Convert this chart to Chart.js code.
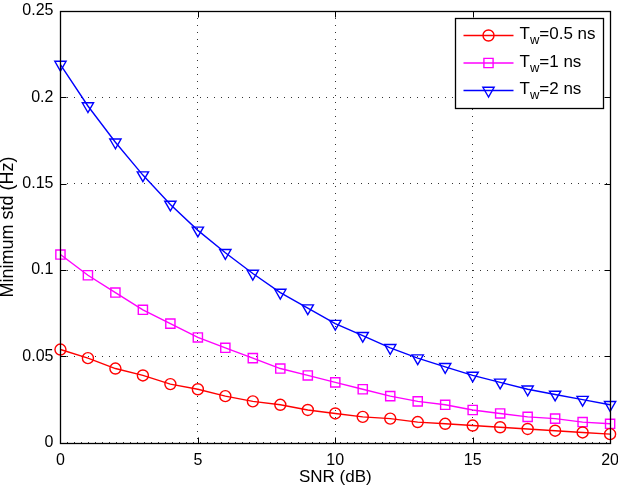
<!DOCTYPE html>
<html>
<head>
<meta charset="utf-8">
<script src="https://cdn.jsdelivr.net/npm/chart.js@4/dist/chart.umd.min.js"></script>
<style>
  html, body { margin: 0; padding: 0; background: #fff; }
  #wrap { width: 618px; height: 486px; }
</style>
</head>
<body>
<div id="wrap"><canvas id="chart" width="618" height="486"></canvas></div>
<script>
const snr = [0,1,2,3,4,5,6,7,8,9,10,11,12,13,14,15,16,17,18,19,20];
const tw05 = [0.054,0.049,0.043,0.039,0.034,0.031,0.027,0.024,0.022,0.019,0.017,0.015,0.014,0.012,0.011,0.010,0.009,0.008,0.007,0.006,0.005];
const tw1 = [0.109,0.097,0.087,0.077,0.069,0.061,0.055,0.049,0.043,0.039,0.035,0.031,0.027,0.024,0.022,0.019,0.017,0.015,0.014,0.012,0.011];
const tw2 = [0.219,0.195,0.174,0.155,0.138,0.123,0.110,0.098,0.087,0.078,0.069,0.062,0.055,0.049,0.044,0.039,0.035,0.031,0.028,0.025,0.022];
const seriesNames = ['=0.5 ns', '=1 ns', '=2 ns'];
const xTicks = [0, 5, 10, 15, 20];
const yTicks = [0, 0.05, 0.1, 0.15, 0.2, 0.25];

const font = 'Liberation Sans, Arial, sans-serif';

function pts(ys) {
    return ys.map((y, i) => ({ x: snr[i], y: y }));
}

// MATLAB style box, inward ticks and legend with subscript
const matlabLook = {
    id: 'matlabLook',
    afterDraw(chart) {
        const ctx = chart.ctx;
        const ca = chart.chartArea;
        const xs = chart.scales.x, ys = chart.scales.y;
        const L = Math.round(ca.left) + 0.5, R = Math.round(ca.right) + 0.5;
        const T = Math.round(ca.top) + 0.5, B = Math.round(ca.bottom) + 0.5;
        ctx.save();
        ctx.strokeStyle = '#000';
        ctx.lineWidth = 1.3;
        ctx.strokeRect(L, T, R - L, B - T);
        ctx.lineWidth = 1;
        ctx.beginPath();
        xTicks.forEach(v => {
            const px = Math.round(xs.getPixelForValue(v)) + 0.5;
            ctx.moveTo(px, B); ctx.lineTo(px, B - 6);
            ctx.moveTo(px, T); ctx.lineTo(px, T + 6);
        });
        yTicks.forEach(v => {
            const py = Math.round(ys.getPixelForValue(v)) + 0.5;
            ctx.moveTo(L, py); ctx.lineTo(L + 6, py);
            ctx.moveTo(R, py); ctx.lineTo(R - 6, py);
        });
        ctx.stroke();

        // legend
        const bw = 148, bh = 90;
        const bx = R - 7 - bw;
        const by = T + 7;
        ctx.fillStyle = '#fff';
        ctx.fillRect(bx, by, bw, bh);
        ctx.strokeStyle = '#000';
        ctx.lineWidth = 1.3;
        ctx.strokeRect(bx, by, bw, bh);
        chart.data.datasets.forEach((ds, i) => {
            const cy = by + 17 + i * 27.5;
            ctx.strokeStyle = ds.borderColor;
            ctx.fillStyle = 'rgba(0,0,0,0)';
            ctx.lineWidth = ds.borderWidth;
            ctx.beginPath();
            ctx.moveTo(bx + 8, cy); ctx.lineTo(bx + 58, cy);
            ctx.stroke();
            Chart.helpers.drawPoint(ctx, {
                pointStyle: ds.pointStyle, rotation: ds.pointRotation || 0,
                radius: ds.pointRadius, borderWidth: ds.pointBorderWidth
            }, bx + 33, cy);
            ctx.fillStyle = '#000';
            ctx.textBaseline = 'alphabetic';
            ctx.textAlign = 'left';
            ctx.font = '17px ' + font;
            const tx = bx + 64;
            ctx.fillText('T', tx, cy + 3.5);
            const tw = ctx.measureText('T').width;
            ctx.font = '13px ' + font;
            ctx.fillText('w', tx + tw, cy + 8.5);
            const ww = ctx.measureText('w').width;
            ctx.font = '17px ' + font;
            ctx.fillText(seriesNames[i], tx + tw + ww, cy + 3.5);
        });
        ctx.restore();
    }
};

const lineDs = (label, data, color, style, rot, r) => ({
    label: label,
    data: pts(data),
    borderColor: color,
    backgroundColor: 'rgba(0,0,0,0)',
    pointBorderColor: color,
    pointBackgroundColor: 'rgba(0,0,0,0)',
    borderWidth: 1.4,
    pointBorderWidth: 1.4,
    pointStyle: style,
    pointRotation: rot,
    pointRadius: r,
    tension: 0,
    fill: false
});

new Chart(document.getElementById('chart'), {
    type: 'line',
    data: {
        datasets: [
            lineDs('Tw=0.5 ns', tw05, '#ff0000', 'circle', 0, 5.5),
            lineDs('Tw=1 ns', tw1, '#ff00ff', 'rect', 0, 6.5),
            lineDs('Tw=2 ns', tw2, '#0000ff', 'triangle', 180, 6.5)
        ]
    },
    options: {
        responsive: false,
        animation: false,
        clip: false,
        layout: { padding: 0 },
        plugins: { legend: { display: false }, tooltip: { enabled: false } },
        scales: {
            x: {
                type: 'linear',
                min: 0, max: 20,
                afterBuildTicks: s => { s.ticks = xTicks.map(v => ({ value: v })); },
                afterFit: s => { s.paddingRight = 7; },
                grid: { color: '#333', lineWidth: 1, drawTicks: false },
                border: { display: false, dash: [1, 6] },
                ticks: { color: '#000', font: { family: font, size: 16 }, padding: 8, maxRotation: 0 },
                title: { display: true, text: 'SNR (dB)', color: '#000', font: { family: font, size: 17, lineHeight: 1 }, padding: { top: -9, bottom: 0 } }
            },
            y: {
                type: 'linear',
                min: 0, max: 0.25,
                afterBuildTicks: s => { s.ticks = yTicks.map(v => ({ value: v })); },
                afterFit: s => { s.paddingTop = 11; },
                grid: { color: '#333', lineWidth: 1, drawTicks: false },
                border: { display: false, dash: [1, 6] },
                ticks: { color: '#000', font: { family: font, size: 16 }, padding: 7, callback: v => String(v) },
                title: { display: true, text: 'Minimum std (Hz)', color: '#000', font: { family: font, size: 18, lineHeight: 0.85 }, padding: { top: 0, bottom: 0 } }
            }
        }
    },
    plugins: [matlabLook]
});
</script>
</body>
</html>
